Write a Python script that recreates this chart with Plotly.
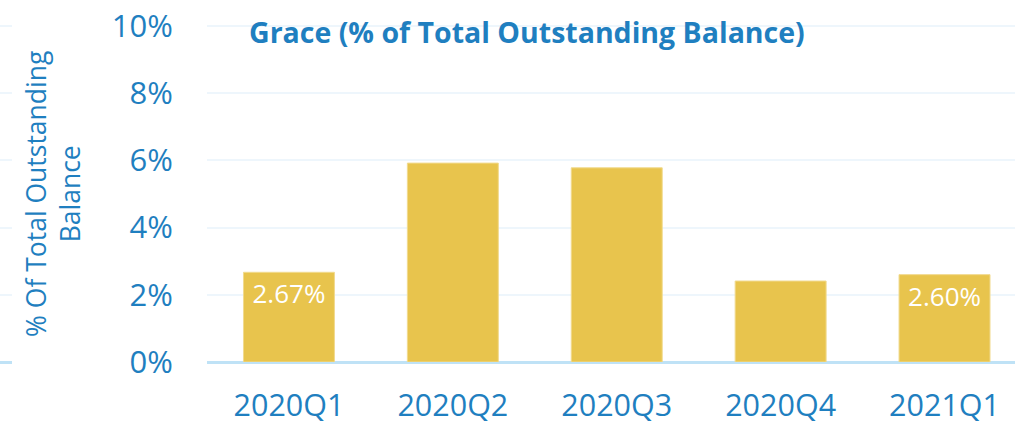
import plotly.graph_objects as go

categories = ["2020Q1", "2020Q2", "2020Q3", "2020Q4", "2021Q1"]
values = [2.67, 5.92, 5.78, 2.41, 2.60]
labels = ["2.67%", "", "", "", "2.60%"]
y_ticks = [0, 2, 4, 6, 8, 10]
y_tick_text = ["0%", "2%", "4%", "6%", "8%", "10%"]

BLUE = "#1f7fc0"
BAR = "#e8c44d"
GRID = "#eef6fc"
BASE = "#bfe2f6"
W, H = 1015, 425
T, B = 24, 63

fig = go.Figure()
fig.add_trace(go.Bar(
    x=categories, y=values, text=labels,
    textposition="inside", insidetextanchor="end",
    textfont=dict(family="Open Sans", size=26, color="white"),
    marker=dict(color=BAR, line=dict(color="#f1da8e", width=1)),
    cliponaxis=False, hoverinfo="skip",
))
# small fragment of a neighbouring panel at the far left
fig.add_trace(go.Scatter(x=[0], y=[None], xaxis="x2", yaxis="y",
                         mode="markers", showlegend=False, hoverinfo="skip"))

fig.update_layout(
    width=W, height=H,
    margin=dict(l=0, r=0, t=T, b=B),
    paper_bgcolor="white", plot_bgcolor="white",
    showlegend=False,
    bargap=0.445,
    font=dict(family="Open Sans", color=BLUE),
    xaxis=dict(
        domain=[207 / W, 1],
        range=[-0.5, 4.43],
        tickfont=dict(family="Open Sans", size=30.5, color=BLUE),
        ticks="outside", ticklen=16, tickcolor="rgba(0,0,0,0)",
        showgrid=False, showline=False, zeroline=False, automargin=False,
    ),
    xaxis2=dict(
        domain=[0, 12 / W], anchor="y", range=[0, 1],
        showticklabels=False, showgrid=False, zeroline=False, showline=False,
    ),
    yaxis=dict(
        range=[0, 10.06],
        tickvals=y_ticks, ticktext=y_tick_text,
        tickfont=dict(family="Open Sans", size=31, color=BLUE),
        ticks="outside", ticklen=27, tickcolor="rgba(0,0,0,0)",
        showgrid=True, gridcolor=GRID, gridwidth=2,
        zeroline=True, zerolinecolor=BASE, zerolinewidth=3,
        showline=False, automargin=False,
    ),
    annotations=[
        dict(text="<b>Grace (% of Total Outstanding Balance)</b>",
             x=247 / W, y=1 - (32 - T) / (H - T - B),
             xref="paper", yref="paper", yanchor="middle",
             xanchor="left", showarrow=False,
             font=dict(family="Open Sans", size=28.5, color=BLUE)),
        dict(text="% Of Total Outstanding<br>Balance",
             x=53 / W, y=1 - (194 - T) / (H - T - B),
             xref="paper", yref="paper",
             xanchor="center", yanchor="middle", textangle=-90, showarrow=False,
             font=dict(family="Open Sans", size=26.5, color=BLUE)),
    ],
)

fig.write_html("out.html", config={"displayModeBar": False},
               post_script="document.body.style.margin='0';")
